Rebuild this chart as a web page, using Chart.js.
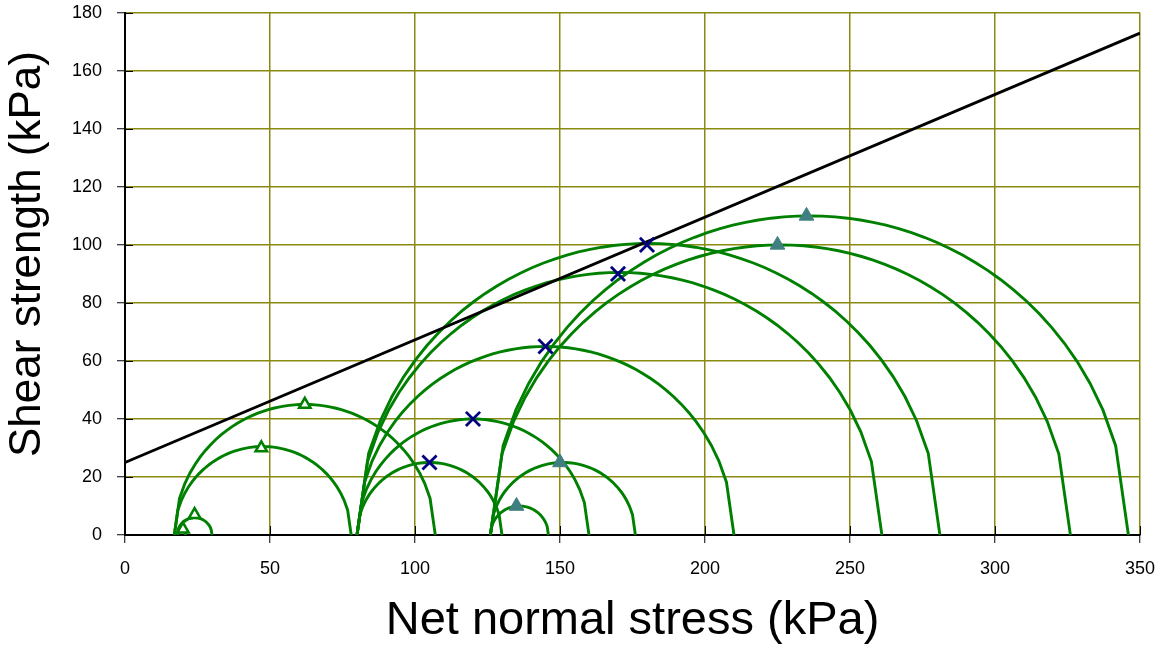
<!DOCTYPE html>
<html><head><meta charset="utf-8">
<script src="https://cdn.jsdelivr.net/npm/chart.js@4.4.1/dist/chart.umd.min.js"></script>
<style>html,body{margin:0;padding:0;background:#fff}#wrap{width:1162px;height:650px}</style>
</head><body><div id="wrap"><canvas id="c" width="1162" height="650"></canvas></div>
<script>
// Mohr circles: minor and major net principal stresses (kPa)
const sigma3 = [18, 18, 17, 17, 80, 80, 80, 80, 80, 126, 126, 126, 126];
const sigma1 = [21, 30, 78, 107, 130, 160, 210, 261, 281, 146, 176, 326, 346];
// Failure envelope
const envX = [0, 350];
const envY = [25, 173];
// Markers at circle tops
const openTriX = [20, 24, 47, 62];
const openTriY = [2, 7, 30, 45];
const crossX = [105, 120, 145, 170, 180];
const crossY = [25, 40, 65, 90, 100];
const fillTriX = [135, 150, 225, 235];
const fillTriY = [10, 25, 100, 110];
// Axes
const xTickValues = [0, 50, 100, 150, 200, 250, 300, 350];
const yTickValues = [0, 20, 40, 60, 80, 100, 120, 140, 160, 180];
const xTitle = 'Net normal stress (kPa)';
const yTitle = 'Shear strength (kPa)';

const FONT = "'Liberation Sans', Arial, sans-serif";
const GREEN = '#008000';

function circlePoints(s3, s1) {
  const c = (s1 + s3) / 2, r = (s1 - s3) / 2, n = 50, pts = [];
  for (let i = 0; i <= n; i++) {
    const s = s3 + (s1 - s3) * i / n;
    pts.push({x: s, y: Math.sqrt(Math.max(0, r * r - (s - c) * (s - c)))});
  }
  return pts;
}
const zip = (xs, ys) => xs.map((x, i) => ({x, y: ys[i]}));

const datasets = [
  {data: zip(crossX, crossY), pointStyle: 'crossRot', pointRadius: 10, pointBorderColor: '#000080', pointBackgroundColor: '#000080', pointBorderWidth: 2.8, showLine: false},
  {data: zip(fillTriX, fillTriY), pointStyle: 'triangle', pointRadius: 8.5, pointBorderColor: '#3f7f7f', pointBackgroundColor: '#3f7f7f', pointBorderWidth: 1, showLine: false},
  {data: zip(openTriX, openTriY), pointStyle: 'triangle', pointRadius: 6.5, pointBorderColor: GREEN, pointBackgroundColor: '#ffffff', pointBorderWidth: 2.6, showLine: false},
  {data: zip(envX, envY), showLine: true, borderColor: '#000000', borderWidth: 2.8, pointRadius: 0, tension: 0, fill: false}
];
sigma3.forEach((s3, i) => {
  datasets.push({data: circlePoints(s3, sigma1[i]), showLine: true, borderColor: GREEN, borderWidth: 2.9, pointRadius: 0, tension: 0, fill: false});
});

const extras = {
  id: 'extras',
  beforeDatasetsDraw(chart) {
    const {ctx, chartArea: a, scales: {x, y}} = chart;
    ctx.save();
    ctx.strokeStyle = '#000';
    ctx.lineWidth = 1;
    ctx.beginPath();
    xTickValues.forEach(v => { const px = Math.round(x.getPixelForValue(v)) + 0.5; ctx.moveTo(px, a.bottom); ctx.lineTo(px, a.bottom - 9); });
    yTickValues.forEach(v => { const py = Math.round(y.getPixelForValue(v)) + 0.5; ctx.moveTo(a.left, py); ctx.lineTo(a.left + 8, py); });
    ctx.stroke();
    ctx.restore();
  },
  afterDraw(chart) {
    const {ctx} = chart;
    ctx.save();
    ctx.fillStyle = '#000';
    ctx.font = "44px " + FONT;
    ctx.textAlign = 'center';
    ctx.textBaseline = 'middle';
    ctx.translate(28, 254);
    ctx.rotate(-Math.PI / 2);
    ctx.fillText(yTitle, 0, 0);
    ctx.restore();
  }
};

new Chart(document.getElementById('c'), {
  type: 'scatter',
  data: {datasets},
  plugins: [extras],
  options: {
    responsive: false,
    devicePixelRatio: 1,
    animation: false,
    layout: {padding: {left: 0, right: 22, top: 12, bottom: 0}},
    plugins: {legend: {display: false}, tooltip: {enabled: false}},
    scales: {
      x: {
        type: 'linear', min: 0, max: 350,
        afterBuildTicks: s => { s.ticks = xTickValues.map(v => ({value: v})); },
        afterFit: s => { s.height = 115; s.paddingLeft = 0; s.paddingRight = 0; },
        ticks: {color: '#000', font: {family: FONT, size: 18}, padding: 15},
        grid: {color: '#8a8a10', lineWidth: 1.5, tickColor: '#000', tickLength: 8, tickWidth: 1},
        border: {color: '#000', width: 2},
        title: {display: true, text: xTitle, color: '#000', font: {family: FONT, size: 47}, padding: {top: 0, bottom: 1}}
      },
      y: {
        type: 'linear', min: 0, max: 180,
        afterBuildTicks: s => { s.ticks = yTickValues.map(v => ({value: v})); },
        afterFit: s => { s.width = 125; s.paddingTop = 0; s.paddingBottom = 0; },
        ticks: {color: '#000', font: {family: FONT, size: 18}, padding: 15},
        grid: {color: '#8a8a10', lineWidth: 1.5, tickColor: '#000', tickLength: 8, tickWidth: 1},
        border: {color: '#000', width: 2},
        title: {display: false}
      }
    }
  }
});
</script>
</body></html>
